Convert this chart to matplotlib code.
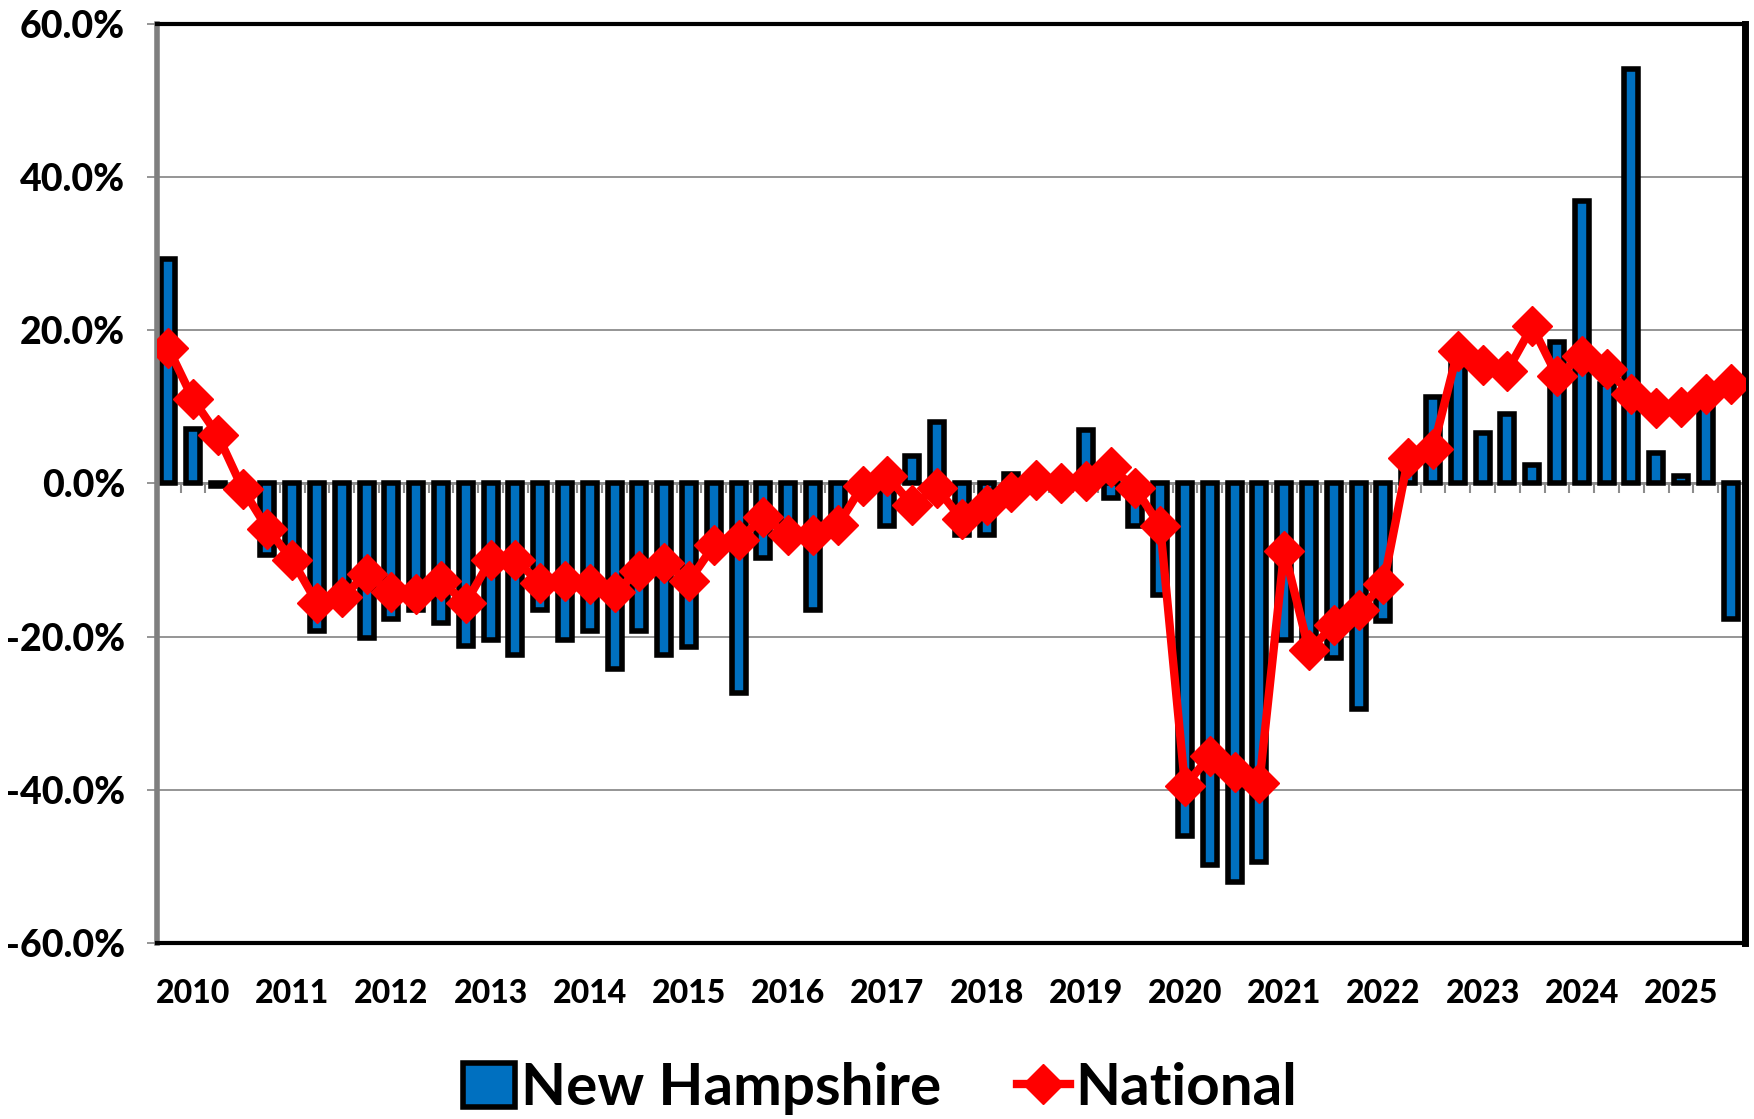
import matplotlib.pyplot as plt
import numpy as np
from matplotlib.ticker import FuncFormatter

# year labels shown on the category axis (one label every 4 quarters)
years = [str(y) for y in range(2010, 2026)]

# quarterly % change, New Hampshire (bars)
nh = [29.3, 7.1, -0.3, -0.4, -9.4, -9.0, -19.3, -15.5,
      -20.2, -17.7, -16.5, -18.2, -21.3, -20.4, -22.4, -16.5,
      -20.5, -19.3, -24.2, -19.3, -22.4, -21.4, -7.5, -27.4,
      -9.7, -6.5, -16.5, -5.5, -0.5, -5.6, 3.5, 8.0,
      -6.7, -6.7, 1.2, 0.2, -0.2, 7.0, -1.9, -5.6,
      -14.6, -46.0, -49.8, -52.1, -49.4, -20.4, -21.0, -22.8,
      -29.5, -18.0, 3.0, 11.2, 16.3, 6.5, 9.1, 2.4,
      18.5, 36.9, 12.9, 54.1, 4.0, 1.0, 10.0, -17.7]

# quarterly % change, National (line)
national = [17.7, 11.0, 6.3, -0.7, -5.9, -10.0, -15.6, -14.9,
            -11.8, -14.2, -14.4, -12.8, -15.6, -10.0, -10.0, -13.0,
            -12.8, -13.2, -14.2, -11.4, -10.4, -12.8, -8.1, -7.4,
            -4.4, -6.8, -6.8, -5.5, -0.3, 0.9, -2.8, -0.65,
            -4.7, -2.8, -1.1, 0.4, 0.0, 0.3, 2.1, -0.65,
            -5.6, -39.5, -35.6, -37.7, -39.1, -8.8, -21.8, -18.5,
            -16.6, -13.1, 3.3, 4.5, 17.3, 15.5, 14.7, 20.5,
            14.0, 16.6, 14.9, 11.6, 9.8, 10.0, 11.7, 13.0]

plt.rcParams['font.family'] = ['Lato', 'DejaVu Sans']

x = np.arange(len(nh))

fig = plt.figure(figsize=(17.54, 11.19), dpi=100)
ax = fig.add_axes([157 / 1754, 1 - 943 / 1119, (1745 - 157) / 1754, (943 - 23.6) / 1119])

ax.set_ylim(-60, 60)
ax.set_xlim(-0.45, len(nh) - 0.42)

# grid lines
ax.set_yticks(np.arange(-60, 61, 20))
ax.yaxis.grid(True, color='#8c8c8c', linewidth=1.3)
ax.set_axisbelow(True)

bars = ax.bar(x, nh, width=0.56, color='#0070C0', edgecolor='black', linewidth=4,
              label='New Hampshire', zorder=2)

# category axis at zero with small ticks between quarters
ax.axhline(0, color='#8c8c8c', linewidth=2, zorder=1)
ax.vlines(np.arange(-0.5, len(nh), 1), -1.3, 0, color='#8c8c8c', linewidth=1.5, zorder=1)

line, = ax.plot(x, national, color='red', linewidth=6, marker='D', markersize=20,
                markeredgecolor='red', label='National', zorder=3)

ax.yaxis.set_major_formatter(FuncFormatter(lambda v, p: f'{v:.1f}%'))
ax.tick_params(axis='y', labelsize=27, length=7, color='#8c8c8c', width=1.3, pad=16)
for t in ax.get_yticklabels():
    t.set_fontweight('black')

ax.set_xticks(np.arange(1, len(nh), 4))
ax.set_xticklabels(years, fontsize=23, fontweight='black')
ax.tick_params(axis='x', length=0, pad=26)

for side in ['top', 'right', 'bottom']:
    ax.spines[side].set_color('black')
ax.spines['top'].set_linewidth(3)
ax.spines['bottom'].set_linewidth(3)
ax.spines['right'].set_linewidth(5)
ax.spines['left'].set_color('#7f7f7f')
ax.spines['left'].set_linewidth(4)

fig.legend(handles=[bars, line], loc='center', bbox_to_anchor=(880 / 1754, 0.027), ncol=2,
           frameon=False, prop={'size': 42, 'weight': 'bold'}, handlelength=0.9,
           handleheight=0.8, handletextpad=0.1, columnspacing=1.3)

fig.savefig('out.png', dpi=100)
